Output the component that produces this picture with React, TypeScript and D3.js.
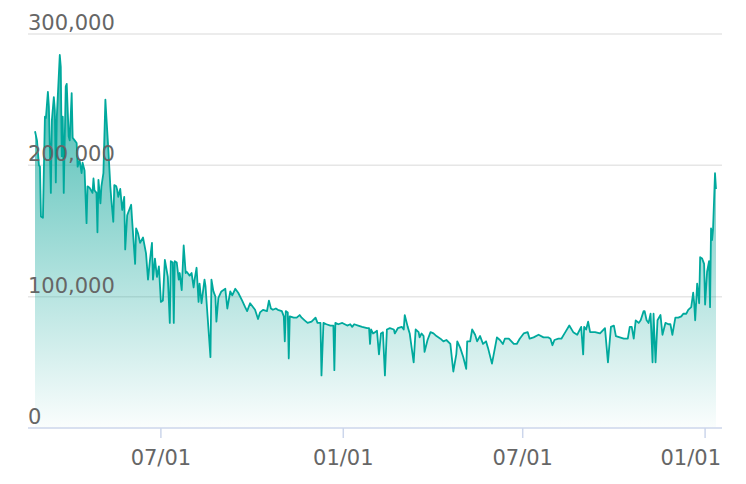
import React from "react";
import * as d3 from "d3";

const dates: string[] = [
  "2020-02-25","2020-02-27","2020-02-29","2020-03-01","2020-03-02","2020-03-04","2020-03-06","2020-03-07","2020-03-09","2020-03-10",
  "2020-03-12","2020-03-13","2020-03-15","2020-03-16","2020-03-17","2020-03-18","2020-03-21","2020-03-22","2020-03-23","2020-03-24",
  "2020-03-25","2020-03-27","2020-03-28","2020-03-30","2020-03-31","2020-04-02","2020-04-03","2020-04-05","2020-04-07","2020-04-08",
  "2020-04-10","2020-04-12","2020-04-13","2020-04-15","2020-04-17","2020-04-18","2020-04-20","2020-04-23","2020-04-24","2020-04-25",
  "2020-04-27","2020-04-28","2020-04-29","2020-05-01","2020-05-02","2020-05-04","2020-05-06","2020-05-07","2020-05-09","2020-05-11",
  "2020-05-12","2020-05-14","2020-05-15","2020-05-17","2020-05-18","2020-05-19","2020-05-21","2020-05-23","2020-05-25","2020-05-26",
  "2020-05-28","2020-05-30","2020-06-01","2020-06-02","2020-06-05","2020-06-06","2020-06-08","2020-06-10","2020-06-13","2020-06-16",
  "2020-06-18","2020-06-20","2020-06-22","2020-06-23","2020-06-25","2020-06-27","2020-06-29","2020-07-01","2020-07-03","2020-07-05",
  "2020-07-08","2020-07-10","2020-07-11","2020-07-13","2020-07-14","2020-07-15","2020-07-17","2020-07-19","2020-07-20","2020-07-22",
  "2020-07-24","2020-07-26","2020-07-27","2020-07-30","2020-08-01","2020-08-03","2020-08-04","2020-08-06","2020-08-08","2020-08-09",
  "2020-08-11","2020-08-14","2020-08-15","2020-08-17","2020-08-20","2020-08-21","2020-08-23","2020-08-25","2020-08-26","2020-08-28",
  "2020-08-31","2020-09-04","2020-09-06","2020-09-09","2020-09-11","2020-09-14","2020-09-17","2020-09-21","2020-09-24","2020-09-26",
  "2020-09-29","2020-10-04","2020-10-07","2020-10-09","2020-10-12","2020-10-16","2020-10-18","2020-10-20","2020-10-22","2020-10-25",
  "2020-10-27","2020-10-31","2020-11-02","2020-11-03","2020-11-04","2020-11-06","2020-11-07","2020-11-08","2020-11-12","2020-11-15",
  "2020-11-18","2020-11-20","2020-11-23","2020-11-26","2020-11-30","2020-12-04","2020-12-06","2020-12-09","2020-12-10","2020-12-12",
  "2020-12-15","2020-12-19","2020-12-22","2020-12-23","2020-12-24","2020-12-27","2020-12-31","2021-01-05","2021-01-08","2021-01-10",
  "2021-01-12","2021-01-16","2021-01-20","2021-01-25","2021-01-27","2021-01-28","2021-01-29","2021-01-31","2021-02-02","2021-02-04",
  "2021-02-06","2021-02-08","2021-02-10","2021-02-12","2021-02-14","2021-02-17","2021-02-21","2021-02-22","2021-02-25","2021-03-01",
  "2021-03-03","2021-03-04","2021-03-07","2021-03-09","2021-03-13","2021-03-15","2021-03-18","2021-03-19","2021-03-21","2021-03-23",
  "2021-03-24","2021-03-27","2021-03-30","2021-04-02","2021-04-05","2021-04-09","2021-04-12","2021-04-15","2021-04-19","2021-04-22",
  "2021-04-25","2021-04-26","2021-04-29","2021-05-02","2021-05-05","2021-05-06","2021-05-09","2021-05-11","2021-05-14","2021-05-16",
  "2021-05-19","2021-05-22","2021-05-25","2021-05-27","2021-05-31","2021-06-05","2021-06-08","2021-06-11","2021-06-13","2021-06-17",
  "2021-06-22","2021-06-25","2021-06-28","2021-07-02","2021-07-06","2021-07-08","2021-07-12","2021-07-17","2021-07-22","2021-07-27",
  "2021-07-29","2021-07-31","2021-08-02","2021-08-06","2021-08-09","2021-08-13","2021-08-17","2021-08-21","2021-08-25","2021-08-29",
  "2021-08-31","2021-09-01","2021-09-03","2021-09-05","2021-09-07","2021-09-12","2021-09-17","2021-09-22","2021-09-25","2021-09-28",
  "2021-10-01","2021-10-03","2021-10-07","2021-10-11","2021-10-15","2021-10-17","2021-10-19","2021-10-21","2021-10-23","2021-10-26",
  "2021-10-28","2021-10-31","2021-11-01","2021-11-03","2021-11-05","2021-11-07","2021-11-09","2021-11-10","2021-11-12","2021-11-14",
  "2021-11-17","2021-11-19","2021-11-22","2021-11-25","2021-11-27","2021-11-29","2021-12-02","2021-12-05","2021-12-08","2021-12-10",
  "2021-12-13","2021-12-15","2021-12-18","2021-12-20","2021-12-21","2021-12-22","2021-12-24","2021-12-26","2021-12-27","2021-12-29",
  "2021-12-31","2022-01-01","2022-01-03","2022-01-05","2022-01-06","2022-01-07","2022-01-08","2022-01-09","2022-01-11","2022-01-12",
];

const values: number[] = [
  226000,219000,200000,199000,161000,160000,237000,236000,256000,245000,
  179000,234000,252000,242000,187000,237000,284000,275000,207000,237000,
  179000,260000,262000,222000,219000,255000,221000,219000,217000,199000,
  204000,194000,202000,196000,156000,184000,183000,179000,190000,181000,
  179000,149000,189000,171000,184000,194000,250000,237000,212000,184000,
  174000,157000,185000,184000,181000,176000,182000,166000,176000,136000,
  162000,166000,170000,158000,125000,152000,148000,141000,145000,133000,
  113000,128000,141000,113000,129000,115000,123000,96000,97000,128000,
  115000,80000,127000,126000,80000,127000,126000,113000,118000,105000,
  139000,118000,119000,116000,118000,107000,113000,122000,96000,110000,
  95000,113000,108000,86000,54000,113000,104000,100000,81000,99000,
  104000,106000,91000,104000,101000,106000,103000,97000,92000,89000,
  95000,90000,83000,88000,90000,89000,97000,91000,90000,91000,
  90000,89000,85000,66000,89000,88000,53000,85000,84000,84000,
  86000,84000,82000,80000,81000,84000,80000,80000,40000,80000,
  79000,78000,78000,44000,80000,79000,80000,78000,79000,77000,
  79000,78000,77000,76000,76000,64000,75000,72000,73000,74000,
  56000,72000,73000,40000,75000,76000,75000,72000,76000,77000,
  75000,86000,77000,72000,50000,75000,73000,69000,72000,70000,
  58000,67000,73000,72000,70000,68000,66000,67000,64000,43000,
  56000,66000,61000,54000,45000,66000,66000,75000,71000,66000,
  70000,64000,66000,61000,49000,69000,67000,64000,68000,68000,
  64000,64000,68000,72000,73000,68000,69000,71000,69000,69000,
  68000,63000,67000,68000,68000,73000,78000,73000,71000,77000,
  56000,77000,75000,81000,73000,73000,72000,76000,50000,77000,
  78000,70000,69000,68000,68000,77000,77000,68000,82000,80000,
  82000,89000,89000,82000,80000,87000,50000,87000,50000,82000,
  86000,71000,80000,79000,79000,71000,84000,84000,85000,87000,
  87000,90000,92000,103000,95000,82000,110000,95000,130000,129000,
  125000,94000,119000,127000,92000,152000,143000,151000,194000,182000,
];

const yTicks: number[] = [0, 100000, 200000, 300000];
const xTickDates: string[] = ["2020-07-01", "2021-01-01", "2021-07-01", "2022-01-01"];

export default function App() {
  const W = 746;
  const H = 484;
  const parse = d3.utcParse("%Y-%m-%d");
  const data = dates.map((d, i) => ({ date: parse(d) as Date, value: values[i] }));

  const x = d3
    .scaleUtc()
    .domain([data[0].date, data[data.length - 1].date])
    .range([35, 716]);
  const y = d3.scaleLinear().domain([0, 300000]).range([428, 34]);

  const line = d3
    .line<{ date: Date; value: number }>()
    .x((d) => x(d.date))
    .y((d) => y(d.value));
  const area = d3
    .area<{ date: Date; value: number }>()
    .x((d) => x(d.date))
    .y0(y(0))
    .y1((d) => y(d.value));

  const fmtY = d3.format(",");
  const fmtX = d3.utcFormat("%m/%d");
  const font = "'DejaVu Sans', sans-serif";
  const left = 28;
  const right = 722;
  const teal = "#00a99d";

  return (
    <svg
      width={W}
      height={H}
      style={{ position: "absolute", left: 0, top: 0, display: "block", background: "#fff" }}
    >
      <defs>
        <linearGradient id="areaFill" gradientUnits="userSpaceOnUse" x1="0" y1={y(300000)} x2="0" y2={y(0)}>
          <stop offset="0" stopColor="#12a79b" stopOpacity={0.85} />
          <stop offset="1" stopColor="#12a79b" stopOpacity={0.02} />
        </linearGradient>
      </defs>
      {yTicks.slice(1).map((t) => (
        <line key={t} x1={left} x2={right} y1={y(t)} y2={y(t)} stroke="#e6e6e6" strokeWidth={1.5} />
      ))}
      <path d={area(data) || ""} fill="url(#areaFill)" />
      <path d={line(data) || ""} fill="none" stroke={teal} strokeWidth={1.8} strokeLinejoin="round" />
      <line x1={left} x2={right} y1={y(0)} y2={y(0)} stroke="#ccd6eb" strokeWidth={1.5} />
      {xTickDates.map((s) => {
        const d = parse(s) as Date;
        const px = x(d);
        return <line key={s} x1={px} x2={px} y1={y(0)} y2={y(0) + 10} stroke="#ccd6eb" strokeWidth={1.5} />;
      })}
      {xTickDates.map((s, i) => {
        const d = parse(s) as Date;
        const px = x(d);
        const last = i === xTickDates.length - 1;
        return (
          <text
            key={s}
            x={last ? right - 1 : px}
            y={465}
            textAnchor={last ? "end" : "middle"}
            fontFamily={font}
            fontSize={21}
            fill="#666666"
          >
            {fmtX(d)}
          </text>
        );
      })}
      {yTicks.map((t) => (
        <text key={t} x={left} y={y(t) - 4} fontFamily={font} fontSize={21} fill="#666666">
          {fmtY(t)}
        </text>
      ))}
    </svg>
  );
}
